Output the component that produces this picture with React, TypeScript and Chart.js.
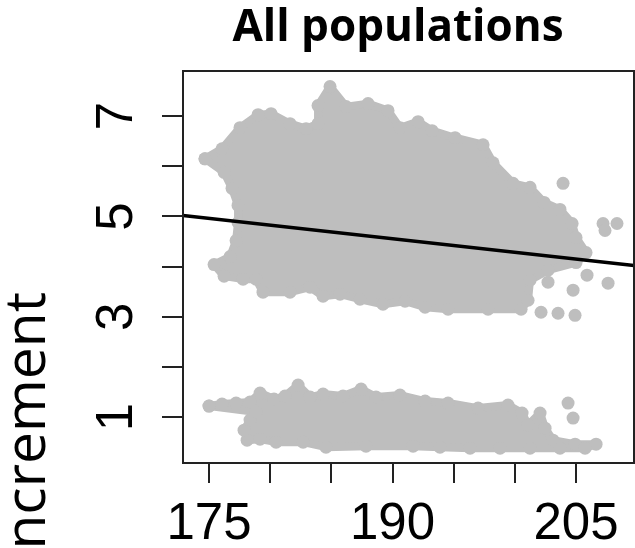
import React, { useEffect, useRef } from 'react';
import { Chart, registerables } from 'chart.js';

Chart.register(...registerables);

const TITLE = 'All populations';
const Y_TITLE = 'Increment';
const X_LABELED = [175, 190, 205];
const Y_LABELED = [1, 3, 5, 7];

// outline of the dense upper cloud (dot centres, closed)
const upperX = [174.67, 176.06, 177.53, 179.01, 180.07, 181.62, 182.93, 183.91, 183.91, 184.89, 186.2, 188.0, 189.63, 190.61, 192.09, 193.23, 195.11, 197.4, 198.22, 199.85, 201.24, 202.39, 203.69, 204.68, 205.0, 205.82, 205.0, 202.71, 201.24, 201.08, 200.51, 197.81, 194.54, 192.66, 191.02, 189.22, 187.34, 185.71, 184.32, 183.26, 181.62, 179.41, 178.84, 177.78, 176.23, 175.41, 176.72, 177.21, 177.37, 177.37, 176.88, 176.23, 174.67];
const upperY = [6.15, 6.35, 6.77, 7.03, 7.05, 6.85, 6.75, 6.85, 7.21, 7.59, 7.19, 7.25, 7.11, 6.77, 6.89, 6.71, 6.57, 6.43, 6.07, 5.66, 5.58, 5.28, 5.14, 4.86, 4.58, 4.28, 4.08, 3.93, 3.73, 3.33, 3.15, 3.15, 3.15, 3.19, 3.31, 3.25, 3.35, 3.45, 3.41, 3.59, 3.49, 3.49, 3.75, 3.75, 3.81, 4.04, 4.2, 4.52, 4.88, 5.22, 5.56, 5.88, 6.15];

// outline of the dense lower cloud (dot centres, closed)
const lowerX = [175.0, 176.06, 177.21, 178.35, 179.17, 180.31, 181.21, 182.28, 183.26, 184.32, 185.95, 187.43, 188.65, 190.61, 192.66, 194.54, 196.99, 199.44, 200.59, 201.08, 202.06, 202.47, 203.12, 204.92, 206.64, 205.74, 203.69, 201.24, 198.79, 196.34, 193.88, 191.68, 187.83, 184.56, 182.69, 180.48, 179.17, 178.11, 177.86, 178.35, 178.84, 175.0];
const lowerY = [1.22, 1.26, 1.28, 1.3, 1.48, 1.36, 1.42, 1.64, 1.4, 1.46, 1.42, 1.56, 1.4, 1.44, 1.32, 1.28, 1.18, 1.24, 1.08, 0.84, 1.08, 0.78, 0.54, 0.46, 0.46, 0.38, 0.38, 0.38, 0.38, 0.38, 0.4, 0.42, 0.42, 0.4, 0.5, 0.5, 0.56, 0.54, 0.74, 0.94, 1.1, 1.22];

// scattered individual points
const outlierX = [203.94, 207.21, 208.35, 207.37, 202.71, 205.9, 207.62, 204.76, 204.92, 203.53, 202.14, 204.35, 204.76];
const outlierY = [5.66, 4.86, 4.86, 4.72, 3.69, 3.83, 3.67, 3.53, 3.03, 3.07, 3.09, 1.28, 0.98];

// fitted regression line
const fitX = [172.87, 209.74];
const fitY = [5.02, 4.02];

const X_MIN = 172.87;
const X_MAX = 209.74;
const Y_MIN = 0.085;
const Y_MAX = 7.9;

const GREY = '#BEBEBE';

const zip = (xs: number[], ys: number[]) => xs.map((x, i) => ({ x, y: ys[i] }));

const annotate = {
  id: 'annotate',
  afterDraw(chart: any) {
    const { ctx, chartArea } = chart;
    const { left, top, right, bottom } = chartArea;
    ctx.save();
    ctx.strokeStyle = '#222';
    ctx.lineWidth = 2;
    ctx.strokeRect(left, top, right - left, bottom - top);
    ctx.fillStyle = '#000';
    ctx.font = "bold 44px 'Open Sans'";
    ctx.textAlign = 'center';
    ctx.textBaseline = 'alphabetic';
    ctx.fillText(TITLE, 398, 41);
    ctx.translate(45, 292);
    ctx.rotate(-Math.PI / 2);
    ctx.font = "57px 'Open Sans'";
    ctx.textAlign = 'right';
    ctx.fillText(Y_TITLE, 0, 0);
    ctx.restore();
  },
};

export default function App() {
  const ref = useRef<HTMLCanvasElement>(null);
  useEffect(() => {
    const tickFont = { family: "'Liberation Sans', Arial, sans-serif", size: 51 };
    const chart = new Chart(ref.current as HTMLCanvasElement, {
      type: 'scatter',
      data: {
        datasets: [
          {
            type: 'line',
            data: zip(fitX, fitY),
            borderColor: '#000',
            borderWidth: 3.5,
            pointRadius: 0,
            fill: false,
            tension: 0,
          } as any,
          {
            data: zip(outlierX, outlierY),
            pointRadius: 6.5,
            pointBackgroundColor: GREY,
            pointBorderWidth: 0,
            backgroundColor: GREY,
          },
          {
            data: zip(upperX, upperY),
            showLine: true,
            fill: 'shape',
            backgroundColor: GREY,
            borderColor: GREY,
            borderWidth: 8,
            borderJoinStyle: 'round',
            pointRadius: 6.5,
            pointBackgroundColor: GREY,
            pointBorderWidth: 0,
            tension: 0,
          } as any,
          {
            data: zip(lowerX, lowerY),
            showLine: true,
            fill: 'shape',
            backgroundColor: GREY,
            borderColor: GREY,
            borderWidth: 8,
            borderJoinStyle: 'round',
            pointRadius: 6.5,
            pointBackgroundColor: GREY,
            pointBorderWidth: 0,
            tension: 0,
          } as any,
        ],
      },
      options: {
        responsive: false,
        animation: false,
        devicePixelRatio: 1,
        events: [],
        layout: { autoPadding: false, padding: { top: 71, right: 1, left: 0, bottom: 0 } },
        plugins: { legend: { display: false }, tooltip: { enabled: false }, title: { display: false } },
        scales: {
          x: {
            type: 'linear',
            position: 'bottom',
            min: X_MIN,
            max: X_MAX,
            border: { display: false },
            grid: { drawOnChartArea: false, drawTicks: true, tickLength: 20, color: '#222', lineWidth: 2 },
            ticks: {
              stepSize: 5,
              includeBounds: false,
              autoSkip: false,
              minRotation: 0,
              maxRotation: 0,
              padding: 11,
              color: '#000',
              font: tickFont,
              callback: (v: any) => (X_LABELED.includes(Number(v)) ? String(v) : ''),
            },
            afterFit: (s: any) => {
              s.height = 85;
              s.paddingLeft = 0;
              s.paddingRight = 0;
            },
          },
          y: {
            type: 'linear',
            position: 'left',
            min: Y_MIN,
            max: Y_MAX,
            border: { display: false },
            grid: { drawOnChartArea: false, drawTicks: true, tickLength: 21, color: '#222', lineWidth: 2 },
            ticks: {
              stepSize: 1,
              includeBounds: false,
              autoSkip: false,
              minRotation: 90,
              maxRotation: 90,
              crossAlign: 'center',
              padding: 30,
              color: '#000',
              font: tickFont,
              callback: (v: any) => (Y_LABELED.includes(Number(v)) ? String(v) : ''),
            },
            afterFit: (s: any) => {
              s.width = 183;
              s.paddingTop = 0;
              s.paddingBottom = 0;
            },
          },
        },
      } as any,
      plugins: [annotate],
    });
    return () => chart.destroy();
  }, []);
  return (
    <div style={{ position: 'absolute', left: 0, top: 0, width: 635, height: 548, background: '#fff' }}>
      <canvas ref={ref} width={635} height={548} style={{ display: 'block', width: 635, height: 548 }} />
    </div>
  );
}
